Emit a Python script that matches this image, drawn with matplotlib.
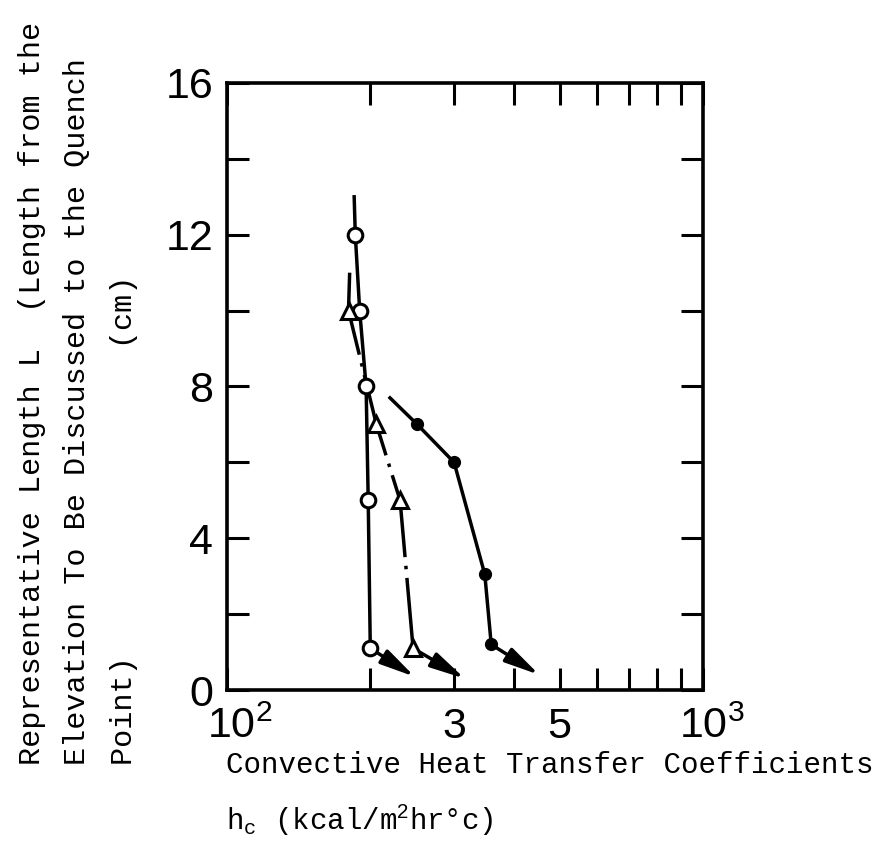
import matplotlib
matplotlib.use("Agg")
import matplotlib.pyplot as plt
from matplotlib.ticker import NullLocator
from matplotlib.transforms import ScaledTranslation

# data (h_c in kcal/m2 hr C, L in cm)
circ_h = [186, 190, 196, 198, 200]
circ_L = [12, 10, 8, 5, 1.1]
circ_top = (185, 13.0)
circ_arrow = (248, 0.35)

tri_h = [180, 206, 231, 246]
tri_L = [10, 7, 5, 1.1]
tri_top = (181, 11.0)
tri_arrow = (316, 0.3)

dot_h = [251, 300, 348, 359]
dot_L = [7, 6, 3.05, 1.2]
dot_top = (220, 7.7)
dot_arrow = (453, 0.4)

x_ticks = [100, 200, 300, 400, 500, 600, 700, 800, 900, 1000]
x_labels = [r"$\mathregular{10^2}$", "", "3", "", "5", "", "", "", "", r"$\mathregular{10^3}$"]
y_ticks = [0, 2, 4, 6, 8, 10, 12, 14, 16]
y_labels = ["0", "", "4", "", "8", "", "12", "", "16"]

plt.rcParams["mathtext.fontset"] = "custom"
plt.rcParams["mathtext.rm"] = "Liberation Sans"
plt.rcParams["mathtext.sf"] = "Liberation Sans"
plt.rcParams["mathtext.tt"] = "Liberation Mono"

W, H = 884, 863
fig = plt.figure(figsize=(W / 100, H / 100), dpi=100)
ax = fig.add_axes([227 / W, 1 - 690 / H, (703 - 227) / W, (690 - 83) / H])

lw = 2.5

# open circles
ax.plot([circ_top[0]] + circ_h, [circ_top[1]] + circ_L, color="k", lw=lw, zorder=3)
ax.plot(circ_h, circ_L, "o", ms=10.5, mfc="white", mec="k", mew=2.2, zorder=5)

# open triangles, dash-dot line
ax.plot([tri_top[0]] + tri_h, [tri_top[1]] + tri_L, color="k", lw=lw,
        dashes=(24, 2.5, 1, 2.5), zorder=3)
ax.plot(tri_h, tri_L, "^", ms=11, mfc="white", mec="k", mew=2.2, zorder=5)

# filled circles
ax.plot([dot_top[0]] + dot_h, [dot_top[1]] + dot_L, color="k", lw=lw, zorder=3)
ax.plot(dot_h, dot_L, "o", ms=8.5, mfc="k", mec="k", zorder=5)

# arrows going down to L = 0
for h, L, end in [(circ_h, circ_L, circ_arrow), (tri_h, tri_L, tri_arrow), (dot_h, dot_L, dot_arrow)]:
    ax.annotate("", xy=end, xytext=(h[-1], L[-1]),
                arrowprops=dict(arrowstyle="-|>,head_length=1.4,head_width=0.32",
                                mutation_scale=15, lw=lw, color="k",
                                shrinkA=0, shrinkB=0), zorder=4)

ax.set_xscale("log")
ax.set_xlim(100, 1000)
ax.set_ylim(0, 16)
ax.set_xticks(x_ticks, labels=x_labels)
ax.xaxis.set_minor_locator(NullLocator())
ax.set_yticks(y_ticks, labels=y_labels)
ax.tick_params(which="major", direction="in", top=True, right=True,
               length=16, width=2.2, labelsize=31)
ax.tick_params(axis="x", pad=34.5)
ax.tick_params(axis="y", pad=10)
for lbl in ax.get_xticklabels() + ax.get_yticklabels():
    lbl.set_family("Liberation Sans")
xl = ax.get_xticklabels()
for lbl in xl:
    lbl.set_va("baseline")
# the power-of-ten labels sit a little right of their ticks
xl[0].set_transform(xl[0].get_transform() + ScaledTranslation(0.13, 0, fig.dpi_scale_trans))
xl[-1].set_transform(xl[-1].get_transform() + ScaledTranslation(0.09, 0, fig.dpi_scale_trans))
for s in ax.spines.values():
    s.set_linewidth(2.6)

mono = "Liberation Mono"
# y axis title, three typed lines
ylines = ["Representative Length L  (Length from the",
          "Elevation To Be Discussed to the Quench",
          "Point)                 (cm)"]
for x_px, txt in zip([32, 77, 124], ylines):
    fig.text(x_px / W, 1 - 765 / H, txt, rotation=90, ha="center", va="bottom",
             family=mono, fontsize=21.8)

# x axis title
fig.text(226 / W, 1 - 765 / H, "Convective Heat Transfer Coefficients",
         ha="left", va="center", family=mono, fontsize=21)
fig.text(226 / W, 1 - 820 / H, r"h$_\mathtt{c}$ (kcal/m$^\mathsf{2}$hr°c)",
         ha="left", va="center", family=mono, fontsize=21)

fig.savefig("out.png", dpi=100, facecolor="white")
